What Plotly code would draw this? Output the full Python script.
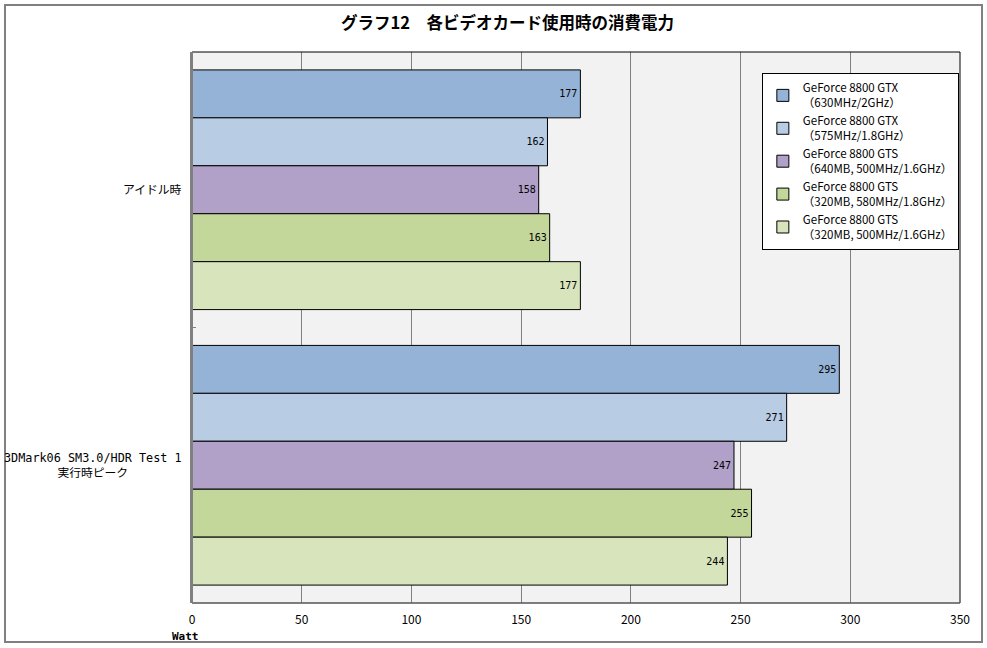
import plotly.graph_objects as go

categories = ["アイドル時", "3DMark06 SM3.0/HDR Test 1<br>実行時ピーク"]
series_names = [
    "GeForce 8800 GTX<br>（630MHz/2GHz）",
    "GeForce 8800 GTX<br>（575MHz/1.8GHz）",
    "GeForce 8800 GTS<br>（640MB, 500MHz/1.6GHz）",
    "GeForce 8800 GTS<br>（320MB, 580MHz/1.8GHz）",
    "GeForce 8800 GTS<br>（320MB, 500MHz/1.6GHz）",
]
values = [
    [177, 295],
    [162, 271],
    [158, 247],
    [163, 255],
    [177, 244],
]
colors = ["#95B3D7", "#B8CCE4", "#B1A0C7", "#C4D79B", "#D8E4BC"]
x_ticks = [0, 50, 100, 150, 200, 250, 300, 350]

JP = "Noto Sans CJK JP, MS PGothic, sans-serif"
MONO = "DejaVu Sans Mono, Noto Sans CJK JP, monospace"

fig = go.Figure()
for name, vals, col in zip(series_names, values, colors):
    fig.add_trace(go.Bar(
        y=categories, x=vals, name=name, orientation="h",
        marker=dict(color=col, line=dict(color="#000000", width=1)),
        text=[str(v) for v in vals], textposition="inside",
        insidetextanchor="end", textangle=0,
        textfont=dict(family="DejaVu Sans Mono, monospace", size=10, color="#000000"),
        cliponaxis=False,
    ))

annotations = [
    dict(text="<b>グラフ12　各ビデオカード使用時の消費電力</b>",
         xref="paper", yref="paper", x=(507 - 192) / 768, y=(603 - 22) / 551,
         xanchor="center", yanchor="middle", showarrow=False,
         font=dict(family=JP, size=16.5, color="#000000")),
    dict(text="<b>Watt</b>", xref="paper", yref="paper",
         x=(170 - 192) / 768, y=(603 - 636) / 551,
         xanchor="left", yanchor="middle", showarrow=False,
         font=dict(family="DejaVu Sans Mono, monospace", size=11, color="#000000")),
]
for cat in categories:
    annotations.append(dict(
        text=cat, xref="paper", yref="y", x=(184 - 192) / 768, y=cat,
        xanchor="right", yanchor="middle", align="center", showarrow=False,
        font=dict(family=MONO, size=11.8, color="#000000"),
    ))

fig.update_layout(
    width=987, height=648,
    margin=dict(l=192, r=27, t=52, b=45),
    paper_bgcolor="#FFFFFF", plot_bgcolor="#F2F2F2",
    barmode="group", bargap=0.13, bargroupgap=0,
    font=dict(family=JP, size=11, color="#000000"),
    showlegend=True,
    legend=dict(
        x=0.742, y=0.962, xanchor="left", yanchor="top",
        bgcolor="#FFFFFF", bordercolor="#000000", borderwidth=1,
        font=dict(family=JP, size=11.5, color="#000000"),
        traceorder="normal", itemwidth=30,
    ),
    xaxis=dict(
        range=[0, 350], tickvals=x_ticks, ticktext=[str(t) for t in x_ticks],
        showgrid=True, gridcolor="#808080", gridwidth=1, zeroline=False,
        showline=False, ticks="", tickfont=dict(family=JP, size=12),
        ticklabelstandoff=8, fixedrange=True,
    ),
    yaxis=dict(
        autorange="reversed", type="category",
        showline=True, linecolor="#808080", linewidth=2,
        ticks="inside", tickson="boundaries", ticklen=4, tickcolor="#808080",
        showgrid=False, showticklabels=False,
        fixedrange=True,
    ),
    shapes=[
        dict(type="rect", xref="paper", yref="paper", x0=0, x1=1, y0=0, y1=1,
             line=dict(color="#000000", width=1), layer="above"),
        dict(type="line", xref="paper", yref="paper", x0=0, x1=0, y0=0, y1=1,
             line=dict(color="#808080", width=2), layer="above"),
        dict(type="line", xref="paper", yref="paper", x0=0, x1=1, y0=0, y1=0,
             line=dict(color="#808080", width=1), layer="above"),
        dict(type="rect", xref="paper", yref="paper",
             x0=(5 - 192) / 768, x1=(982 - 192) / 768,
             y0=(603 - 642) / 551, y1=(603 - 5) / 551,
             line=dict(color="#808080", width=2), layer="below"),
    ],
    annotations=annotations,
)

fig.write_html("out.html")
